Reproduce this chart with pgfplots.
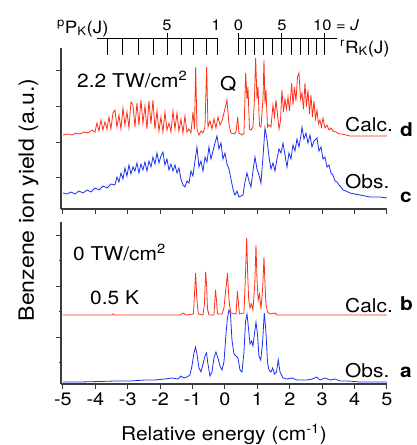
\documentclass[border=0pt]{standalone}
\usepackage{fontspec}
\setmainfont{TeX Gyre Heros}[FakeStretch=1.1]
\usepackage{pgfplots}
\pgfplotsset{compat=1.18}

\definecolor{calcred}{RGB}{255,48,24}
\definecolor{obsblue}{RGB}{28,48,240}
\definecolor{axgray}{RGB}{60,60,60}

\pgfplotsset{
  panel/.style={
    scale only axis, width=326pt,
    xmin=-5.06, xmax=5, ymin=0,
    axis x line*=bottom, axis y line*=left,
    axis line style={-, axgray, line width=1.3pt},
    every outer x axis line/.append style={-},
    every outer y axis line/.append style={-},
    tick style={axgray, line width=1pt},
    tick align=outside, major tick length=5pt, minor tick length=2.5pt,
    xtick={-5,-4,-3,-2,-1,0,1,2,3,4,5},
    yticklabels={},
    clip=false,
  },
  calc/.style={calcred, line width=0.8pt},
  obs/.style={obsblue, line width=0.8pt},
}

\begin{document}
\begin{tikzpicture}
\path[use as bounding box] (0,0) rectangle (416pt,-445pt);
\clip (0,0) rectangle (416pt,-445pt);

% upper panel: 2.2 TW/cm^2
\begin{axis}[panel, at={(61pt,-209pt)}, anchor=south west,
  height=161pt, ymax=161,
  ytick={32,67,103,139}, xticklabels={}]
  % c: observed
  \addplot[obs] coordinates {
    (-5.000,16) (-4.877,15) (-4.753,17) (-4.630,15) (-4.506,18) (-4.383,16)
    (-4.259,19) (-4.136,17) (-4.012,21) (-3.889,19) (-3.766,23) (-3.642,21)
    (-3.519,25) (-3.395,24) (-3.333,32) (-3.272,27) (-3.210,36) (-3.148,30)
    (-3.087,41) (-3.025,33) (-2.963,44) (-2.901,35) (-2.840,42) (-2.778,38)
    (-2.716,46) (-2.654,36) (-2.593,45) (-2.531,39) (-2.469,47) (-2.407,38)
    (-2.346,48) (-2.284,42) (-2.222,52) (-2.160,45) (-2.099,56) (-2.037,46)
    (-1.975,53) (-1.914,57) (-1.852,44) (-1.790,50) (-1.728,39) (-1.667,45)
    (-1.605,38) (-1.543,44) (-1.481,36) (-1.420,41) (-1.358,30) (-1.296,24)
    (-1.235,22) (-1.173,28) (-1.111,26) (-1.049,38) (-0.988,33) (-0.926,48)
    (-0.864,62) (-0.802,42) (-0.741,48) (-0.679,38) (-0.617,52) (-0.556,47)
    (-0.494,62) (-0.432,50) (-0.370,58) (-0.309,66) (-0.247,73) (-0.185,60)
    (-0.123,66) (-0.062,50) (0.000,56) (0.062,45) (0.123,40) (0.185,30)
    (0.247,20) (0.309,14) (0.370,18) (0.432,12) (0.494,13) (0.556,14)
    (0.617,27) (0.679,36) (0.741,28) (0.802,22) (0.864,38) (0.926,52)
    (0.988,40) (1.049,34) (1.111,26) (1.173,52) (1.235,81) (1.296,70)
    (1.358,52) (1.420,40) (1.481,46) (1.543,38) (1.605,50) (1.667,60)
    (1.728,56) (1.790,66) (1.852,54) (1.914,42) (1.975,56) (2.037,50)
    (2.099,64) (2.160,58) (2.222,70) (2.284,62) (2.346,74) (2.377,82)
    (2.438,70) (2.500,76) (2.562,66) (2.623,74) (2.685,62) (2.747,68)
    (2.840,71) (2.901,58) (2.963,62) (3.025,50) (3.086,52) (3.148,42)
    (3.210,44) (3.272,36) (3.333,34) (3.395,28) (3.457,27) (3.519,24)
    (3.580,22) (3.642,19) (3.735,18) (3.858,16) (4.012,15) (4.167,14)
    (4.475,12) (4.784,12) (5.000,11)
  };
  % d: calculated
  \addplot[calc] coordinates {
    (-5.000,74) (-4.846,75) (-4.722,74) (-4.599,76) (-4.475,75) (-4.352,77)
    (-4.228,76) (-4.105,79) (-4.012,77) (-3.951,86) (-3.889,78) (-3.827,89)
    (-3.766,79) (-3.704,87) (-3.642,80) (-3.580,92) (-3.519,80) (-3.457,96)
    (-3.395,99) (-3.333,82) (-3.272,94) (-3.210,80) (-3.148,101) (-3.087,84)
    (-3.025,97) (-2.963,81) (-2.901,107) (-2.840,104) (-2.778,82) (-2.716,106)
    (-2.654,84) (-2.593,109) (-2.531,86) (-2.469,103) (-2.407,80) (-2.346,108)
    (-2.284,85) (-2.222,109) (-2.160,80) (-2.099,98) (-2.037,78) (-1.975,92)
    (-1.914,77) (-1.852,97) (-1.790,79) (-1.728,86) (-1.667,77) (-1.605,98)
    (-1.543,80) (-1.481,96) (-1.420,78) (-1.358,90) (-1.296,76) (-1.235,93)
    (-1.173,77) (-1.111,80) (-1.049,76) (-0.988,97) (-0.941,80) (-0.904,142)
    (-0.864,80) (-0.802,74) (-0.741,78) (-0.679,76) (-0.617,82) (-0.565,142)
    (-0.525,82) (-0.463,88) (-0.401,80) (-0.340,90) (-0.278,81) (-0.216,92)
    (-0.154,84) (-0.093,88) (-0.031,96) (0.061,109) (0.123,85) (0.185,76)
    (0.278,75) (0.340,77) (0.392,92) (0.432,76) (0.525,74) (0.586,76)
    (0.639,136) (0.679,110) (0.710,122) (0.756,80) (0.802,79) (0.864,82)
    (0.910,110) (0.947,151) (0.988,110) (1.019,122) (1.065,83) (1.111,82)
    (1.173,110) (1.204,149) (1.235,105) (1.265,119) (1.312,82) (1.358,84)
    (1.420,82) (1.481,104) (1.528,92) (1.574,109) (1.620,95) (1.667,80)
    (1.713,88) (1.759,119) (1.806,97) (1.852,110) (1.898,100) (1.944,112)
    (1.991,98) (2.059,126) (2.099,104) (2.145,122) (2.191,108) (2.238,132)
    (2.284,136) (2.330,110) (2.377,116) (2.423,100) (2.469,126) (2.515,102)
    (2.562,119) (2.608,95) (2.654,114) (2.700,92) (2.747,108) (2.793,90)
    (2.840,99) (2.886,85) (2.932,89) (2.978,82) (3.025,91) (3.086,81)
    (3.148,84) (3.210,79) (3.272,81) (3.333,78) (3.426,77) (3.519,75)
    (3.611,75) (3.735,74) (3.858,73) (4.167,73) (5.000,73)
  };
  % rotational assignment combs
  \draw[black, line width=0.8pt] (axis cs:-3.951,171) -- (axis cs:-0.247,171);
  \pgfplotsinvokeforeach{-3.642,-3.179,-2.685,-2.222,-1.358,-0.988,-0.586,-0.247}{
    \draw[black, line width=0.8pt] (axis cs:#1,171) -- (axis cs:#1,154);}
  \draw[black, line width=0.8pt] (axis cs:-1.790,176) -- (axis cs:-1.790,154);
  \draw[black, line width=0.8pt] (axis cs:0.410,171) -- (axis cs:3.457,171);
  \pgfplotsinvokeforeach{0.639,0.904,1.182,1.472,2.037,2.315,2.571,2.830}{
    \draw[black, line width=0.8pt] (axis cs:#1,171) -- (axis cs:#1,154);}
  \pgfplotsinvokeforeach{0.410,1.750,3.065}{
    \draw[black, line width=0.8pt] (axis cs:#1,176) -- (axis cs:#1,154);}
\end{axis}

% lower panel: 0 TW/cm^2, 0.5 K
\begin{axis}[panel, at={(61pt,-384pt)}, anchor=south west,
  height=162pt, ymax=162,
  ytick={47,98,149}, minor ytick={22,73,124},
  xticklabels={-5,-4,-3,-2,-1,0,1,2,3,4,5},
  xticklabel style={font=\fontsize{18}{20}\selectfont}]
  % a: observed
  \addplot[obs] coordinates {
    (-5.000,2) (-4.475,2) (-3.858,2.5) (-3.395,3) (-2.932,3) (-2.469,4)
    (-2.160,4) (-1.852,5) (-1.636,6) (-1.451,5) (-1.358,8) (-1.265,6)
    (-1.173,7) (-1.080,9) (-1.019,18) (-0.957,31) (-0.910,37) (-0.864,30)
    (-0.802,16) (-0.741,12) (-0.679,20) (-0.617,28) (-0.571,31) (-0.525,20)
    (-0.463,8) (-0.401,12) (-0.340,26) (-0.278,32) (-0.216,26) (-0.154,18)
    (-0.093,14) (-0.031,22) (0.031,50) (0.077,66) (0.123,74) (0.170,70)
    (0.216,44) (0.278,30) (0.340,28) (0.401,26) (0.463,14) (0.525,12)
    (0.586,32) (0.633,62) (0.679,70) (0.725,56) (0.772,40) (0.824,43)
    (0.864,38) (0.910,50) (0.957,62) (1.003,50) (1.049,28) (1.102,24)
    (1.157,40) (1.213,71) (1.265,52) (1.312,22) (1.358,14) (1.420,12)
    (1.472,16) (1.528,10) (1.590,12) (1.645,24) (1.698,12) (1.790,6)
    (1.914,5) (2.068,6) (2.222,4) (2.377,4) (2.531,4) (2.685,5)
    (2.830,7) (2.932,4) (3.086,6) (3.241,4) (3.395,5) (3.549,3)
    (3.796,3) (4.167,2) (5.000,2)
  };
  % b: calculated
  \addplot[calc] coordinates {
    (-5.000,69) (-3.500,69) (-3.450,70) (-3.400,69) (-1.389,69) (-1.296,71)
    (-1.200,69) (-0.972,70) (-0.941,90) (-0.904,111) (-0.873,88) (-0.849,78)
    (-0.818,70) (-0.679,69) (-0.633,80) (-0.596,112) (-0.565,98) (-0.540,75)
    (-0.494,69) (-0.340,69) (-0.293,94) (-0.256,82) (-0.231,70) (-0.093,70)
    (-0.031,76) (0.031,96) (0.077,111) (0.108,92) (0.139,79) (0.185,71)
    (0.340,70) (0.386,93) (0.417,80) (0.448,70) (0.586,71) (0.633,110)
    (0.670,146) (0.701,110) (0.731,85) (0.772,76) (0.818,80) (0.864,74)
    (0.920,100) (0.957,139) (0.988,105) (1.025,84) (1.065,90) (1.111,75)
    (1.164,96) (1.204,127) (1.235,100) (1.265,80) (1.312,72) (1.389,70)
    (1.543,71) (1.605,69) (5.000,69)
  };
\end{axis}

% texts
\begin{scope}[every node/.style={inner sep=0pt, font=\fontsize{19}{21}\selectfont}]
  \node[anchor=base west] at (77pt,-87pt) {2.2 TW/cm\textsuperscript{2}};
  \node[anchor=base west] at (220pt,-90pt) {Q};
  \node[anchor=base west] at (345pt,-131pt) {Calc.};
  \node[anchor=base west] at (400pt,-136pt) {\textbf{d}};
  \node[anchor=base west] at (345pt,-188pt) {Obs.};
  \node[anchor=base west] at (400pt,-202pt) {\textbf{c}};
  \node[anchor=base west] at (73pt,-260pt) {0 TW/cm\textsuperscript{2}};
  \node[anchor=base west] at (90pt,-304pt) {0.5 K};
  \node[anchor=base west] at (345pt,-312pt) {Calc.};
  \node[anchor=base west] at (400pt,-310pt) {\textbf{b}};
  \node[anchor=base west] at (345pt,-377pt) {Obs.};
  \node[anchor=base west] at (400pt,-377pt) {\textbf{a}};
  \node[anchor=base] at (224pt,-440pt) {Relative energy (cm\textsuperscript{-1})};
  \node[anchor=base, rotate=90, font=\fontsize{21}{23}\selectfont] at (34pt,-200pt)
    {Benzene ion yield (a.u.)};
  \node[anchor=base west, font=\fontsize{17}{19}\selectfont] at (57pt,-33pt)
    {\textsuperscript{p}P\textsubscript{K}(J)};
  \node[anchor=base west, font=\fontsize{17}{19}\selectfont] at (340pt,-53pt)
    {\textsuperscript{r}R\textsubscript{K}(J)};
  \node[anchor=base, font=\fontsize{15}{17}\selectfont] at (167pt,-30.5pt) {5};
  \node[anchor=base, font=\fontsize{15}{17}\selectfont] at (216pt,-30.5pt) {1};
  \node[anchor=base, font=\fontsize{15}{17}\selectfont] at (238.5pt,-30.5pt) {0};
  \node[anchor=base, font=\fontsize{15}{17}\selectfont] at (282pt,-30.5pt) {5};
  \node[anchor=base west, font=\fontsize{15}{17}\selectfont] at (313pt,-30.5pt) {10 = \textit{J}};
\end{scope}
\end{tikzpicture}
\end{document}
